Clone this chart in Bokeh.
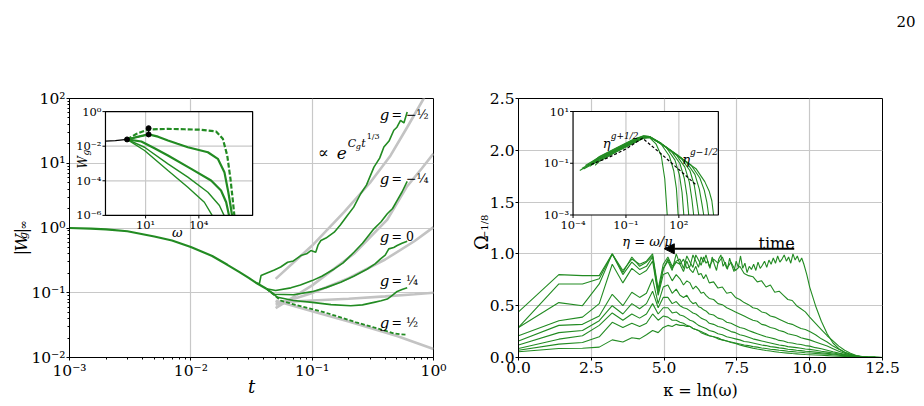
import numpy as np
from bokeh.plotting import figure
from bokeh.layouts import row, column
from bokeh.models import (Range1d, LogScale, FixedTicker, CustomJSTickFormatter,
                          Label, Arrow, NormalHead)
from bokeh.embed import file_html
from bokeh.resources import INLINE

SERIF = "DejaVu Serif"
GREEN = "#228B22"
FITC = "#c3c3c3"
GRIDC = "#c8c8c8"

# ======================= LEFT PANEL DATA =======================
t_common = [0.001, 0.0015, 0.002, 0.003, 0.005, 0.007, 0.01, 0.015, 0.02, 0.025, 0.03, 0.035, 0.042]
W_common = [1.0, 0.975, 0.95, 0.89, 0.74, 0.64, 0.51, 0.37, 0.27, 0.21, 0.17, 0.14, 0.115]

t_gm12 = [0.035, 0.0367, 0.0379, 0.042, 0.0488, 0.055, 0.0628, 0.07, 0.0807, 0.09, 0.0975, 0.107,
          0.112, 0.118, 0.13, 0.152, 0.17, 0.195, 0.22, 0.251, 0.28, 0.323, 0.36, 0.39, 0.43,
          0.471, 0.5, 0.535, 0.57, 0.607]
W_gm12 = [0.14, 0.137, 0.184, 0.20, 0.225, 0.25, 0.296, 0.31, 0.375, 0.40, 0.449, 0.423,
          0.55, 0.641, 0.70, 0.861, 1.1, 1.56, 2.1, 3.38, 4.6, 8.73, 12.0, 17.8, 22.0,
          32.3, 36.0, 46.1, 42.0, 62.0]
t_gm14 = [0.042, 0.05, 0.0668, 0.08, 0.1, 0.12, 0.152, 0.18, 0.221, 0.26, 0.323, 0.37, 0.416,
          0.46, 0.502, 0.55, 0.607]
W_gm14 = [0.115, 0.108, 0.119, 0.132, 0.154, 0.18, 0.233, 0.29, 0.422, 0.58, 0.97, 1.25, 1.66,
          2.0, 2.67, 3.6, 5.25]
t_g0 = [0.042, 0.0488, 0.07, 0.1, 0.13, 0.172, 0.22, 0.285, 0.33, 0.366, 0.4, 0.428, 0.47,
        0.502, 0.55, 0.607]
W_g0 = [0.115, 0.095, 0.093, 0.104, 0.12, 0.145, 0.18, 0.233, 0.28, 0.333, 0.38, 0.476, 0.50,
        0.536, 0.58, 0.625]
t_gp14 = [0.042, 0.052, 0.07, 0.1, 0.143, 0.208, 0.26, 0.323, 0.37, 0.416, 0.46, 0.502, 0.55, 0.607]
W_gp14 = [0.115, 0.085, 0.076, 0.071, 0.0655, 0.063, 0.065, 0.071, 0.075, 0.080, 0.092, 0.105,
          0.112, 0.119]
t_gp12 = [0.042, 0.0553, 0.075, 0.1, 0.13, 0.172, 0.23, 0.323, 0.4, 0.471, 0.54, 0.607]
W_gp12 = [0.115, 0.0755, 0.064, 0.0561, 0.049, 0.0416, 0.035, 0.0291, 0.026, 0.0235, 0.0228, 0.0224]

t_fit_m12 = [0.05, 0.1, 0.183, 0.3, 0.443, 0.607, 0.83, 0.9]
W_fit_m12 = [0.164, 0.536, 1.76, 5.0, 13.2, 36.0, 100.0, 150.0]
t_fit_m14 = [0.05, 0.1, 0.221, 0.416, 0.6, 0.8, 1.0]
W_fit_m14 = [0.058, 0.13, 0.40, 1.35, 4.3, 8.3, 14.1]
t_fit_0 = [0.05, 0.1, 0.2, 0.4, 0.7, 1.0]
W_fit_0 = [0.0655, 0.099, 0.168, 0.326, 0.63, 1.03]
t_fit_p14 = [0.05, 0.1, 0.2, 0.4, 0.7, 1.0]
W_fit_p14 = [0.071, 0.076, 0.081, 0.088, 0.095, 0.10]
t_fit_p12 = [0.05, 0.1, 0.2, 0.5, 1.0]
W_fit_p12 = [0.0755, 0.052, 0.036, 0.0215, 0.0135]

ins1_dashed_lx = [-0.045, 0.5, 1.17, 2.26, 3.2, 4.13, 4.97, 5.35, 5.60, 5.78, 5.9, 6.0]
ins1_dashed_ly = [-1.61, -1.28, -1.03, -1.00, -1.02, -1.05, -1.15, -1.57, -2.54, -3.88, -5.0, -6.0]
ins1_c2_lx = [-0.045, 0.6, 1.17, 1.7, 2.26, 2.8, 3.38, 4.51, 5.07, 5.44, 5.66, 5.78, 5.87]
ins1_c2_ly = [-1.61, -1.45, -1.32, -1.45, -1.67, -1.86, -2.06, -2.35, -2.73, -3.50, -4.66, -5.4, -6.0]
ins1_c3_lx = [-0.045, 0.76, 1.5, 2.26, 3.57, 4.69, 5.25, 5.54, 5.70]
ins1_c3_ly = [-1.61, -1.73, -2.12, -2.54, -3.31, -3.98, -4.56, -5.24, -6.0]
ins1_c4_lx = [-0.045, 0.94, 2.26, 3.38, 4.51, 5.16, 5.42]
ins1_c4_ly = [-1.61, -2.06, -3.02, -3.79, -4.66, -5.43, -6.0]
ins1_c5_lx = [-0.045, 0.94, 2.26, 3.38, 4.31, 4.75]
ins1_c5_ly = [-1.61, -2.25, -3.40, -4.37, -5.24, -6.0]
ins1_black_lx = [-1.26, -0.7, -0.045, 1.17, 1.17]
ins1_black_ly = [-1.71, -1.68, -1.61, -1.32, -0.96]
ins1_dots_lx = [-0.045, 1.17, 1.17]
ins1_dots_ly = [-1.61, -1.32, -0.96]

# ======================= RIGHT PANEL DATA =======================
kappa = [0.0, 1.386, 2.197, 2.773, 3.219, 3.584, 3.892, 4.159, 4.394, 4.605,
         4.796, 4.970, 5.130, 5.278, 5.416, 5.545, 5.666, 5.781, 5.889, 5.991,
         6.089, 6.182, 6.271, 6.356, 6.438,
         6.55, 6.7, 6.85, 7.0, 7.15, 7.3, 7.45, 7.6, 7.75, 7.9,
         8.05, 8.2, 8.35, 8.5, 8.65, 8.8, 8.95, 9.1, 9.25, 9.4,
         9.55, 9.7, 9.85,
         10.0, 10.2, 10.4, 10.6, 10.8, 11.0, 11.2, 11.4, 11.6, 11.8, 12.0, 12.25, 12.5]

kappa_A = [0.0, 1.386, 2.197, 2.773, 3.219, 3.584, 3.892, 4.159, 4.394, 4.605,
           4.796, 4.970, 5.130, 5.278, 5.416, 5.545, 5.666, 5.781, 5.889, 5.991,
           6.089, 6.182, 6.271, 6.356, 6.438,
           6.5, 6.575, 6.65, 6.725, 6.8, 6.875, 6.95, 7.025, 7.1, 7.175,
           7.25, 7.325, 7.4, 7.475, 7.55, 7.625, 7.7, 7.775, 7.85, 7.925,
           8.0, 8.075, 8.15, 8.225, 8.3, 8.375, 8.45, 8.525, 8.6, 8.675,
           8.75, 8.825, 8.9, 8.975, 9.05, 9.125, 9.2, 9.275, 9.35, 9.425,
           9.5, 9.575, 9.65, 9.725, 9.8,
           9.9, 10.0, 10.2, 10.4, 10.6, 10.8, 11.0, 11.2, 11.4, 11.6, 11.8, 12.0, 12.25, 12.5]
omega_A = [0.29, 0.71, 0.71, 0.76, 1.00, 0.84, 0.95, 0.90, 0.93, 1.00,
           0.66, 0.90, 0.97, 0.88, 0.93, 0.95, 0.86, 0.98, 0.92, 0.87,
           0.99, 0.94, 0.89, 0.97, 0.91,
           0.93, 0.86, 0.97, 0.90, 0.84, 0.95, 0.99, 0.88, 0.92, 0.85,
           0.96, 0.89, 0.83, 0.93, 0.87, 0.98, 0.86, 0.91, 0.82, 0.88,
           0.85, 0.90, 0.84, 0.92, 0.86, 0.89, 0.93, 0.87, 0.94, 0.90,
           0.96, 0.91, 0.98, 0.92, 0.95, 0.99, 0.93, 0.97, 0.91, 1.00,
           0.94, 0.98, 0.92, 0.96, 0.90,
           0.80, 0.68, 0.50, 0.35, 0.23, 0.14, 0.085, 0.05, 0.028, 0.014, 0.007, 0.003, 0.001, 0.0]
omega_B = [0.44, 0.80, 0.79, 0.79, 1.00, 0.82, 0.97, 0.88, 0.92, 0.98,
           0.62, 0.86, 0.93, 0.84, 1.00, 0.90, 0.95, 0.86, 0.88, 0.99,
           0.93, 0.87, 0.97, 0.92, 0.99,
           0.88, 0.95, 0.91, 0.97, 0.86, 0.92, 0.84, 0.88, 0.81, 0.79,
           0.78, 0.73, 0.74, 0.68, 0.70, 0.63, 0.64, 0.60, 0.56, 0.55,
           0.50, 0.47, 0.44,
           0.39, 0.33, 0.27, 0.21, 0.16, 0.11, 0.07, 0.04, 0.02, 0.009, 0.004, 0.001, 0.0]
omega_C = [0.29, 0.53, 0.50, 0.71, 1.00, 0.80, 0.92, 0.85, 0.88, 0.97,
           0.63, 0.85, 0.95, 0.86, 0.92, 0.90, 0.83, 0.93, 0.85, 0.82,
           0.88, 0.80, 0.81, 0.76, 0.80,
           0.72, 0.73, 0.67, 0.68, 0.62, 0.63, 0.58, 0.56, 0.53, 0.51,
           0.48, 0.47, 0.44, 0.43, 0.40, 0.39, 0.37, 0.35, 0.33, 0.32,
           0.30, 0.28, 0.27,
           0.25, 0.22, 0.18, 0.15, 0.11, 0.08, 0.05, 0.03, 0.016, 0.008, 0.003, 0.001, 0.0]
omega_D = [0.21, 0.355, 0.39, 0.52, 0.90, 0.72, 0.86, 0.80, 0.84, 0.93,
           0.60, 0.80, 0.82, 0.74, 0.80, 0.76, 0.70, 0.74, 0.72, 0.66,
           0.69, 0.66, 0.62, 0.63, 0.60,
           0.57, 0.56, 0.52, 0.51, 0.48, 0.46, 0.44, 0.42, 0.40, 0.38,
           0.36, 0.35, 0.32, 0.31, 0.29, 0.28, 0.26, 0.25, 0.23, 0.22,
           0.21, 0.19, 0.18,
           0.17, 0.15, 0.13, 0.11, 0.085, 0.06, 0.04, 0.025, 0.013, 0.006, 0.003, 0.001, 0.0]
omega_E = [0.16, 0.31, 0.32, 0.40, 0.61, 0.50, 0.63, 0.58, 0.62, 0.76,
           0.52, 0.68, 0.70, 0.62, 0.66, 0.60, 0.58, 0.60, 0.55, 0.52,
           0.53, 0.49, 0.48, 0.46, 0.45,
           0.42, 0.41, 0.38, 0.37, 0.34, 0.33, 0.31, 0.29, 0.28, 0.26,
           0.245, 0.23, 0.215, 0.20, 0.19, 0.18, 0.165, 0.16, 0.145, 0.14,
           0.13, 0.125, 0.115,
           0.11, 0.095, 0.085, 0.07, 0.055, 0.042, 0.03, 0.02, 0.011, 0.005, 0.002, 0.001, 0.0]
omega_F = [0.12, 0.24, 0.26, 0.355, 0.50, 0.42, 0.52, 0.47, 0.52, 0.64,
           0.48, 0.58, 0.58, 0.52, 0.54, 0.50, 0.48, 0.47, 0.45, 0.43,
           0.42, 0.40, 0.38, 0.37, 0.36,
           0.33, 0.32, 0.30, 0.29, 0.27, 0.25, 0.24, 0.22, 0.21, 0.195,
           0.18, 0.17, 0.16, 0.15, 0.14, 0.13, 0.12, 0.115, 0.105, 0.10,
           0.095, 0.09, 0.082,
           0.078, 0.07, 0.06, 0.052, 0.043, 0.034, 0.025, 0.017, 0.01, 0.005, 0.002, 0.001, 0.0]
omega_G = [0.087, 0.177, 0.21, 0.31, 0.43, 0.36, 0.42, 0.38, 0.42, 0.52,
           0.42, 0.48, 0.48, 0.43, 0.44, 0.41, 0.40, 0.38, 0.36, 0.35,
           0.33, 0.31, 0.30, 0.29, 0.28,
           0.26, 0.25, 0.23, 0.22, 0.20, 0.19, 0.18, 0.17, 0.155, 0.15,
           0.14, 0.13, 0.12, 0.115, 0.105, 0.10, 0.093, 0.088, 0.08, 0.076,
           0.07, 0.066, 0.061,
           0.058, 0.052, 0.046, 0.04, 0.034, 0.027, 0.02, 0.014, 0.009, 0.005, 0.002, 0.001, 0.0]
omega_H = [0.07, 0.129, 0.145, 0.20, 0.34, 0.29, 0.33, 0.30, 0.33, 0.42,
           0.36, 0.40, 0.39, 0.36, 0.36, 0.34, 0.33, 0.31, 0.30, 0.28,
           0.27, 0.26, 0.24, 0.23, 0.22,
           0.21, 0.20, 0.18, 0.17, 0.16, 0.15, 0.14, 0.13, 0.12, 0.115,
           0.105, 0.10, 0.092, 0.087, 0.08, 0.076, 0.07, 0.066, 0.061, 0.057,
           0.053, 0.05, 0.046,
           0.043, 0.039, 0.035, 0.031, 0.026, 0.021, 0.016, 0.011, 0.007, 0.004, 0.002, 0.001, 0.0]
omega_I = [0.055, 0.087, 0.09, 0.10, 0.17, 0.15, 0.19, 0.18, 0.22, 0.26,
           0.24, 0.29, 0.31, 0.30, 0.32, 0.31, 0.31, 0.30, 0.30, 0.28,
           0.27, 0.26, 0.25, 0.24, 0.23,
           0.21, 0.20, 0.19, 0.17, 0.16, 0.145, 0.135, 0.12, 0.11, 0.10,
           0.09, 0.082, 0.075, 0.068, 0.062, 0.056, 0.05, 0.046, 0.042, 0.038,
           0.035, 0.032, 0.029,
           0.027, 0.024, 0.021, 0.018, 0.015, 0.012, 0.009, 0.006, 0.004, 0.002, 0.001, 0.0005, 0.0]

ins2_lx = [
    [-3.62, -2.5, -1.5, -0.6, 0.0, 0.35, 0.7, 1.0, 1.2, 1.34],
    [-3.5, -2.5, -1.5, -0.6, 0.0, 0.35, 0.96, 1.46, 1.71, 1.86, 1.96],
    [-3.4, -2.5, -1.5, -0.6, 0.0, 0.35, 1.28, 1.78, 2.03, 2.18, 2.28],
    [-3.3, -2.5, -1.5, -0.6, 0.0, 0.35, 1.0, 1.56, 2.06, 2.31, 2.46, 2.56],
    [-3.2, -2.5, -1.5, -0.6, 0.0, 0.35, 1.0, 1.84, 2.34, 2.59, 2.74, 2.84],
    [-3.05, -2.5, -1.5, -0.6, 0.0, 0.35, 1.0, 2.13, 2.63, 2.88, 3.03, 3.13],
    [-2.95, -2.5, -1.5, -0.6, 0.0, 0.35, 1.0, 2.0, 2.41, 2.91, 3.16, 3.31, 3.41],
    [-2.85, -2.5, -1.5, -0.6, 0.0, 0.35, 1.0, 2.0, 2.69, 3.19, 3.44, 3.59, 3.69],
    [-2.75, -2.5, -1.5, -0.6, 0.0, 0.35, 1.0, 2.0, 2.97, 3.47, 3.72, 3.87, 3.97],
]
ins2_ly = [
    [-1.28, -0.84, -0.49, -0.18, 0.0, -0.02, -0.25, -0.7, -1.6, -3.0],
    [-1.20, -0.80, -0.44, -0.13, 0.04, 0.02, -0.225, -0.72, -1.29, -1.97, -3.0],
    [-1.22, -0.88, -0.53, -0.22, -0.02, 0.01, -0.38, -0.88, -1.45, -2.12, -3.0],
    [-1.09, -0.76, -0.41, -0.10, 0.05, 0.03, -0.24, -0.52, -1.01, -1.59, -2.26, -3.0],
    [-1.11, -0.82, -0.47, -0.16, 0.01, 0.02, -0.25, -0.66, -1.15, -1.72, -2.40, -3.0],
    [-1.12, -0.87, -0.51, -0.20, -0.01, 0.0, -0.24, -0.80, -1.29, -1.87, -2.54, -3.0],
    [-0.98, -0.74, -0.39, -0.08, 0.06, 0.03, -0.23, -0.72, -0.94, -1.43, -2.0, -2.58, -3.0],
    [-1.00, -0.80, -0.45, -0.14, 0.03, 0.02, -0.25, -0.74, -1.07, -1.57, -2.04, -2.51, -3.0],
    [-1.08, -0.92, -0.55, -0.24, -0.03, 0.0, -0.26, -0.75, -1.21, -1.71, -2.08, -2.45, -3.0],
]
ins2_black_lx = [-2.97, -2.0, -1.0, -0.06, 1.0, 2.0, 3.0]
ins2_black_ly = [-1.05, -0.78, -0.45, -0.03, -0.64, -1.24, -1.85]

log_ticks_x1 = [1e-3, 1e-2, 1e-1, 1.0]
log_ticks_y1 = [1e-2, 1e-1, 1.0, 1e1, 1e2]
lin_ticks_x2 = [0.0, 2.5, 5.0, 7.5, 10.0, 12.5]
lin_ticks_y2 = [0.0, 0.5, 1.0, 1.5, 2.0, 2.5]

# ======================= LAYOUT (page pixels) =======================
TOP_H = 30
ROW_H = 406 - TOP_H
P1_X, P1_W = 28, 434            # p1 canvas: page x 28..462
P2_X, P2_W = 486, 438           # p2 canvas: page x 486..924
S1_W = 60                       # label strip under p1's transparent left border: page x 0..60
S2_X, S2_W = 462, 56            # label strip under p2's transparent left border: page x 462..518
L1, R1, T1, B1 = 68, 433, 98, 357
L2, R2 = 515, 882


def d1(px, py):
    return 10 ** (-3 + (px - L1) * 3 / (R1 - L1)), 10 ** (2 - (py - T1) * 4 / (B1 - T1))


def d2(px, py):
    return (px - L2) * 12.5 / (R2 - L2), (B1 - py) * 2.5 / (B1 - T1)


SUP_JS = r"""
const sup = {"-": "\u207b", "0": "\u2070", "1": "\u00b9", "2": "\u00b2", "3": "\u00b3",
             "4": "\u2074", "5": "\u2075", "6": "\u2076", "7": "\u2077", "8": "\u2078", "9": "\u2079"};
const e = Math.round(Math.log10(tick));
return "10" + String(e).split("").map(c => sup[c]).join("");
"""


def style(p, minor=True):
    for ax in (p.xaxis[0], p.yaxis[0]):
        ax.axis_line_color = "black"
        ax.major_tick_line_color = "black"
        ax.major_tick_in = 0
        ax.major_tick_out = 3
        ax.minor_tick_in = 0
        ax.minor_tick_out = 2
        ax.minor_tick_line_color = "black" if minor else None
        ax.major_label_text_font = SERIF
        ax.major_label_text_font_size = "15.5px"
        ax.major_label_text_color = "black"
        ax.major_label_standoff = 1
        ax.axis_label_text_font = SERIF
        ax.axis_label_text_color = "black"
    p.outline_line_color = "black"
    p.outline_line_alpha = 1.0
    p.outline_line_width = 1
    for g in (p.xgrid[0], p.ygrid[0]):
        g.grid_line_color = GRIDC
        g.grid_line_width = 1.2
    p.background_fill_color = "white"
    p.border_fill_color = None          # transparent, so the label strip beneath shows


def lab(p, x, y, text, size, st="normal", align="left", base="alphabetic", angle=0.0, **kw):
    p.add_layout(Label(x=x, y=y, text=text, text_font=SERIF, text_font_size=f"{size}px",
                       text_font_style=st, text_align=align, text_baseline=base,
                       angle=angle, text_color="black", **kw))


def strip(w, h):
    f = figure(width=w, height=h, x_range=Range1d(0, w), y_range=Range1d(h, 0),
               output_backend="svg", toolbar_location=None,
               x_axis_location=None, y_axis_location=None, min_border=0)
    f.outline_line_color = None
    f.background_fill_color = "white"
    f.border_fill_color = "white"
    for r in list(f.center):
        r.visible = False
    return f


# ======================= LEFT FIGURE =======================
p1 = figure(width=P1_W, height=ROW_H, x_axis_type="log", y_axis_type="log",
            x_range=Range1d(1e-3, 1.0), y_range=Range1d(1e-2, 1e2),
            output_backend="svg", toolbar_location=None,
            min_border_left=L1 - P1_X, min_border_right=P1_X + P1_W - R1,
            min_border_top=T1 - TOP_H, min_border_bottom=406 - B1)
p1.margin = (0, 0, 0, P1_X - S1_W)
style(p1)
p1.xaxis.ticker = FixedTicker(ticks=log_ticks_x1,
                              minor_ticks=[m * 10.0 ** e for e in range(-3, 0) for m in range(2, 10)])
p1.yaxis.ticker = FixedTicker(ticks=log_ticks_y1,
                              minor_ticks=[m * 10.0 ** e for e in range(-2, 2) for m in range(2, 10)])
p1.xaxis.formatter = CustomJSTickFormatter(code=SUP_JS)
p1.yaxis.formatter = CustomJSTickFormatter(code=SUP_JS)
p1.xaxis.axis_label = "t"
p1.xaxis.axis_label_text_font_style = "italic"
p1.xaxis.axis_label_text_font_size = "18px"
p1.xaxis.axis_label_standoff = -7

for tt, ww in [(t_fit_m12, W_fit_m12), (t_fit_m14, W_fit_m14), (t_fit_0, W_fit_0),
               (t_fit_p14, W_fit_p14), (t_fit_p12, W_fit_p12)]:
    p1.line(tt, ww, line_color=FITC, line_width=2.6)

p1.line(t_common, W_common, line_color=GREEN, line_width=2.2)
for tt, ww in [(t_gm12, W_gm12), (t_gm14, W_gm14), (t_g0, W_g0), (t_gp14, W_gp14)]:
    p1.line(tt, ww, line_color=GREEN, line_width=1.6)
p1.line(t_gp12, W_gp12, line_color=GREEN, line_width=1.8, line_dash="4 2")

I1_X10, I1_DX = 144.3, 17.8
I1_Y1, I1_DY = 111.1, 17.3
p1.extra_x_ranges = {"ix": Range1d(10 ** (1 + (L1 - I1_X10) / I1_DX), 10 ** (1 + (R1 - I1_X10) / I1_DX))}
p1.extra_y_ranges = {"iy": Range1d(10 ** (-(B1 - I1_Y1) / I1_DY), 10 ** ((I1_Y1 - T1) / I1_DY))}
p1.extra_x_scales = {"ix": LogScale()}
p1.extra_y_scales = {"iy": LogScale()}
IN1 = dict(x_range_name="ix", y_range_name="iy")
bx0, bx1, by0, by1 = 10 ** -1.26, 10 ** 7.03, 1e-6, 1.0

p1.quad(left=[bx0], right=[bx1], bottom=[by0], top=[by1], fill_color="white", line_color=None, **IN1)
for gx in [10.0, 1e4]:
    p1.segment(x0=[gx], y0=[by0], x1=[gx], y1=[by1], line_color=GRIDC, line_width=1.2, **IN1)
for gy in [1e-2, 1e-4]:
    p1.segment(x0=[bx0], y0=[gy], x1=[bx1], y1=[gy], line_color=GRIDC, line_width=1.2, **IN1)


def pw(a):
    return list(10.0 ** np.array(a))


p1.line(pw(ins1_black_lx), pw(ins1_black_ly), line_color="black", line_width=1.3, **IN1)
p1.line(pw(ins1_c5_lx), pw(ins1_c5_ly), line_color=GREEN, line_width=1.4, **IN1)
p1.line(pw(ins1_c4_lx), pw(ins1_c4_ly), line_color=GREEN, line_width=1.4, **IN1)
p1.line(pw(ins1_c3_lx), pw(ins1_c3_ly), line_color=GREEN, line_width=2.2, **IN1)
p1.line(pw(ins1_c2_lx), pw(ins1_c2_ly), line_color=GREEN, line_width=2.2, **IN1)
p1.line(pw(ins1_dashed_lx), pw(ins1_dashed_ly), line_color=GREEN, line_width=2.2, line_dash="5 2", **IN1)
p1.scatter(pw(ins1_dots_lx), pw(ins1_dots_ly), size=5, color="black", **IN1)
p1.quad(left=[bx0], right=[bx1], bottom=[by0], top=[by1], fill_color=None, line_color="black",
        line_width=1.2, **IN1)
tkx = 10 ** (3 / I1_DX)
tky = 10 ** (3 / I1_DY)
for v in [1.0, 1e-2, 1e-4, 1e-6]:
    p1.segment(x0=[bx0], y0=[v], x1=[bx0 / tkx], y1=[v], line_color="black", line_width=1, **IN1)
for v in [10.0, 1e4]:
    p1.segment(x0=[v], y0=[by0], x1=[v], y1=[by0 / tky], line_color="black", line_width=1, **IN1)
for v, s in [(1.0, "10\u2070"), (1e-2, "10\u207b\u00b2"), (1e-4, "10\u207b\u2074"), (1e-6, "10\u207b\u2076")]:
    lab(p1, bx0, v, s, 11.5, align="right", base="middle", x_offset=-4, **IN1)
for v, s in [(10.0, "10\u00b9"), (1e4, "10\u2074")]:
    lab(p1, v, by0, s, 11.5, align="center", base="top", y_offset=-3, **IN1)


def lab1(px, py, text, size, **kw):
    x, y = d1(px, py)
    lab(p1, x, y, text, size, **kw)


for py, txt in [(114, "= \u2212\u00bd"), (178, "= \u2212\u00bc"), (236, "= 0"),
                (280, "= \u00bc"), (322, "= \u00bd")]:
    lab1(379, py, "g", 15, st="italic")
    lab1(391, py, txt, 12.5)
lab1(317, 152, "\u221d", 16)
lab1(336, 152, "e", 17, st="italic")
lab1(347, 143, "C", 11, st="italic")
lab1(355, 146, "g", 8, st="italic")
lab1(360.5, 143, "t", 11, st="italic")
lab1(366, 136, "1/3", 8)
lab1(82, 168, "W", 12, st="italic", angle=np.pi / 2)
lab1(85, 155, "g", 9, st="italic", angle=np.pi / 2)
lab1(176, 232, "\u03c9", 13, st="italic", align="center")

# ======================= RIGHT FIGURE =======================
p2 = figure(width=P2_W, height=ROW_H, x_range=Range1d(0, 12.5), y_range=Range1d(0, 2.5),
            output_backend="svg", toolbar_location=None,
            min_border_left=L2 - P2_X, min_border_right=924 - R2,
            min_border_top=T1 - TOP_H, min_border_bottom=406 - B1)
p2.margin = (0, 0, 0, P2_X - (S2_X + S2_W))
style(p2, minor=False)
p2.xaxis.ticker = FixedTicker(ticks=lin_ticks_x2)
p2.yaxis.ticker = FixedTicker(ticks=lin_ticks_y2)
p2.xaxis.formatter = CustomJSTickFormatter(code="return tick.toFixed(1);")
p2.yaxis.formatter = CustomJSTickFormatter(code="return tick.toFixed(1);")
p2.xaxis.axis_label = "\u03ba = ln(\u03c9)"
p2.xaxis.axis_label_text_font_style = "normal"
p2.xaxis.axis_label_text_font_size = "16px"
p2.xaxis.axis_label_standoff = 5

for kk, om in [(kappa, omega_I), (kappa, omega_H), (kappa, omega_G), (kappa, omega_F),
               (kappa, omega_E), (kappa, omega_D), (kappa, omega_C), (kappa, omega_B),
               (kappa_A, omega_A)]:
    p2.line(kk, om, line_color=GREEN, line_width=1.1)

ax0, ay0 = d2(793, 248.3)
ax1, ay1 = d2(662, 248.3)
p2.add_layout(Arrow(end=NormalHead(size=10, fill_color="black", line_color="black", line_width=1),
                    x_start=ax0, y_start=ay0, x_end=ax1, y_end=ay1, line_color="black", line_width=2))


def lab2(px, py, text, size, **kw):
    x, y = d2(px, py)
    lab(p2, x, y, text, size, **kw)


lab2(757, 243, "time", 16)

I2_X, I2_DX = 570.0, 17.78
I2_Y, I2_DY = 111.0, 25.875
p2.extra_x_ranges = {"jx": Range1d(10 ** (-4 + (L2 - I2_X) / I2_DX), 10 ** (-4 + (R2 - I2_X) / I2_DX))}
p2.extra_y_ranges = {"jy": Range1d(10 ** (1 - (B1 - I2_Y) / I2_DY), 10 ** (1 + (I2_Y - T1) / I2_DY))}
p2.extra_x_scales = {"jx": LogScale()}
p2.extra_y_scales = {"jy": LogScale()}
IN2 = dict(x_range_name="jx", y_range_name="jy")
cx0, cx1, cy0, cy1 = 1e-4, 10 ** 4.24, 1e-3, 10.0
p2.quad(left=[cx0], right=[cx1], bottom=[cy0], top=[cy1], fill_color="white", line_color=None, **IN2)
for gx in [1e-1, 1e2]:
    p2.segment(x0=[gx], y0=[cy0], x1=[gx], y1=[cy1], line_color=GRIDC, line_width=1.2, **IN2)
p2.segment(x0=[cx0], y0=[1e-1], x1=[cx1], y1=[1e-1], line_color=GRIDC, line_width=1.2, **IN2)
for lx, ly in zip(ins2_lx, ins2_ly):
    p2.line(pw(lx), pw(ly), line_color=GREEN, line_width=1.1, **IN2)
p2.line(pw(ins2_black_lx), pw(ins2_black_ly), line_color="black", line_width=1.2, line_dash="3 2", **IN2)
p2.quad(left=[cx0], right=[cx1], bottom=[cy0], top=[cy1], fill_color=None, line_color="black",
        line_width=1.2, **IN2)
tkx2 = 10 ** (3 / I2_DX)
tky2 = 10 ** (3 / I2_DY)
for v in [10.0, 1e-1, 1e-3]:
    p2.segment(x0=[cx0], y0=[v], x1=[cx0 / tkx2], y1=[v], line_color="black", line_width=1, **IN2)
for v in [1e-4, 1e-1, 1e2]:
    p2.segment(x0=[v], y0=[cy0], x1=[v], y1=[cy0 / tky2], line_color="black", line_width=1, **IN2)
for v, s in [(10.0, "10\u00b9"), (1e-1, "10\u207b\u00b9"), (1e-3, "10\u207b\u00b3")]:
    lab(p2, cx0, v, s, 11.5, align="right", base="middle", x_offset=-4, **IN2)
for v, s in [(1e-4, "10\u207b\u2074"), (1e-1, "10\u207b\u00b9"), (1e2, "10\u00b2")]:
    lab(p2, v, cy0, s, 11.5, align="center", base="top", y_offset=-3, **IN2)
lab2(600, 143, "\u03b7", 13, st="italic")
lab2(608, 135, "g+1/2", 9, st="italic")
lab2(680, 159, "\u03b7", 13, st="italic")
lab2(688, 151, "g\u22121/2", 9, st="italic")
lab2(645, 241, "\u03b7 = \u03c9/\u03bc", 13, st="italic", align="center")

# ======================= LABEL STRIPS =======================
ftop = strip(924, TOP_H)
lab(ftop, 915, 21, "20", 15, align="right")

fy1 = strip(S1_W, ROW_H)


def ly1(px, py, text, size, **kw):
    lab(fy1, px, py - TOP_H, text, size, angle=np.pi / 2, **kw)


ly1(20, 258, "|", 17)
ly1(20, 252, "W", 17, st="italic")
ly1(23, 234, "g", 11, st="italic")
ly1(20, 226, "|", 17)
ly1(23, 220, "\u221e", 11)

fy2 = strip(S2_W, ROW_H)


def ly2(px, py, text, size, **kw):
    lab(fy2, px - S2_X, py - TOP_H, text, size, angle=np.pi / 2, **kw)


ly2(481, 250, "\u03a9", 18)
ly2(484, 234, "\u22121/8", 10)

layout = column(ftop, row(fy1, p1, fy2, p2))
with open("out.html", "w", encoding="utf-8") as f:
    f.write(file_html(layout, INLINE))
